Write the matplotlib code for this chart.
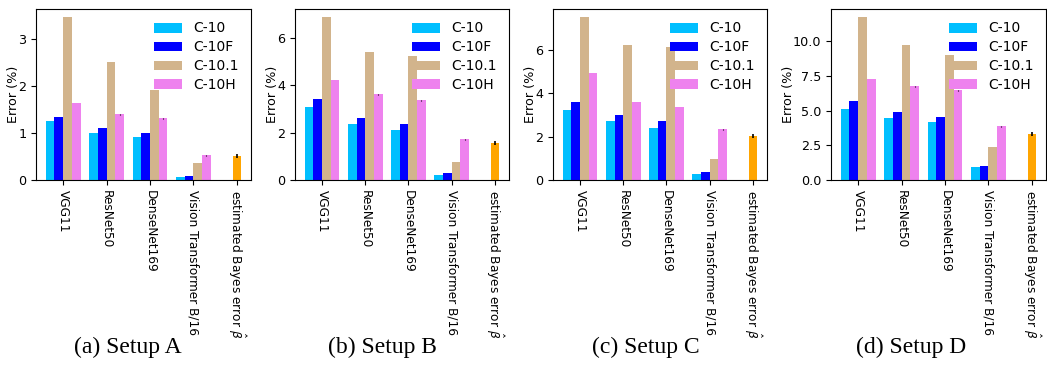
import numpy as np
import matplotlib.pyplot as plt
from matplotlib.ticker import MultipleLocator

models = ["VGG11", "ResNet50", "DenseNet169", "Vision Transformer B/16"]
bayes_label = r"estimated Bayes error $\hat{\beta}$"
series = ["C-10", "C-10F", "C-10.1", "C-10H"]
colors = ["deepskyblue", "blue", "tan", "violet"]
captions = ["(a) Setup A", "(b) Setup B", "(c) Setup C", "(d) Setup D"]
ytick_steps = [1, 2, 2, 2.5]

# rows: C-10, C-10F, C-10.1, C-10H ; cols: models
err_a = [[1.25, 1.01, 0.92, 0.06],
         [1.34, 1.10, 1.00, 0.09],
         [3.47, 2.51, 1.92, 0.36],
         [1.64, 1.40, 1.32, 0.53]]
err_b = [[3.08, 2.37, 2.11, 0.22],
         [3.42, 2.62, 2.37, 0.30],
         [6.89, 5.41, 5.24, 0.76],
         [4.23, 3.63, 3.38, 1.73]]
err_c = [[3.23, 2.72, 2.40, 0.28],
         [3.60, 3.00, 2.72, 0.37],
         [7.52, 6.23, 6.14, 0.97],
         [4.94, 3.60, 3.37, 2.35]]
err_d = [[5.11, 4.46, 4.17, 0.93],
         [5.68, 4.89, 4.53, 1.00],
         [11.73, 9.71, 9.00, 2.37],
         [7.27, 6.76, 6.47, 3.88]]
c10h_std = [[0.01, 0.01, 0.01, 0.01],
            [0.02, 0.02, 0.02, 0.02],
            [0.02, 0.02, 0.02, 0.02],
            [0.03, 0.03, 0.03, 0.03]]
bayes = [0.51, 1.56, 2.03, 3.31]
bayes_std = [0.05, 0.08, 0.08, 0.12]

all_err = [err_a, err_b, err_c, err_d]

fs = 8.7
fig = plt.figure(figsize=(10.47, 3.87), dpi=100)
lefts = [36, 295, 553, 831]
widths = [215, 214, 214, 215]
centers = [128, 382, 646, 911]

x = np.arange(len(models))
w = 0.2
for k in range(4):
    ax = fig.add_axes([lefts[k] / 1047, 1 - 180 / 387, widths[k] / 1047, 171 / 387])
    vals = all_err[k]
    for i in range(4):
        yerr = c10h_std[k] if i == 3 else None
        ax.bar(x + (i - 1.5) * w, vals[i], w, color=colors[i], label=series[i],
               yerr=yerr, ecolor="black", error_kw=dict(elinewidth=0.8))
    ax.bar(4, bayes[k], w, color="orange", yerr=bayes_std[k], ecolor="black",
           error_kw=dict(elinewidth=1.2))
    ax.set_xticks(list(x) + [4])
    ax.set_xticklabels(models + [bayes_label], rotation=-90, fontsize=fs)
    ax.yaxis.set_major_locator(MultipleLocator(ytick_steps[k]))
    ax.tick_params(axis="y", labelsize=fs + 0.5)
    ax.set_ylabel("Error (%)", fontsize=fs + 0.5, labelpad=-1.5)
    ax.legend(loc="upper right", frameon=False, fontsize=10, labelspacing=0.35)
    fig.text(centers[k] / 1047, 1 - 347 / 387, captions[k], ha="center", va="center",
             fontsize=17, family="Liberation Serif")

fig.savefig("out.png", dpi=100)
